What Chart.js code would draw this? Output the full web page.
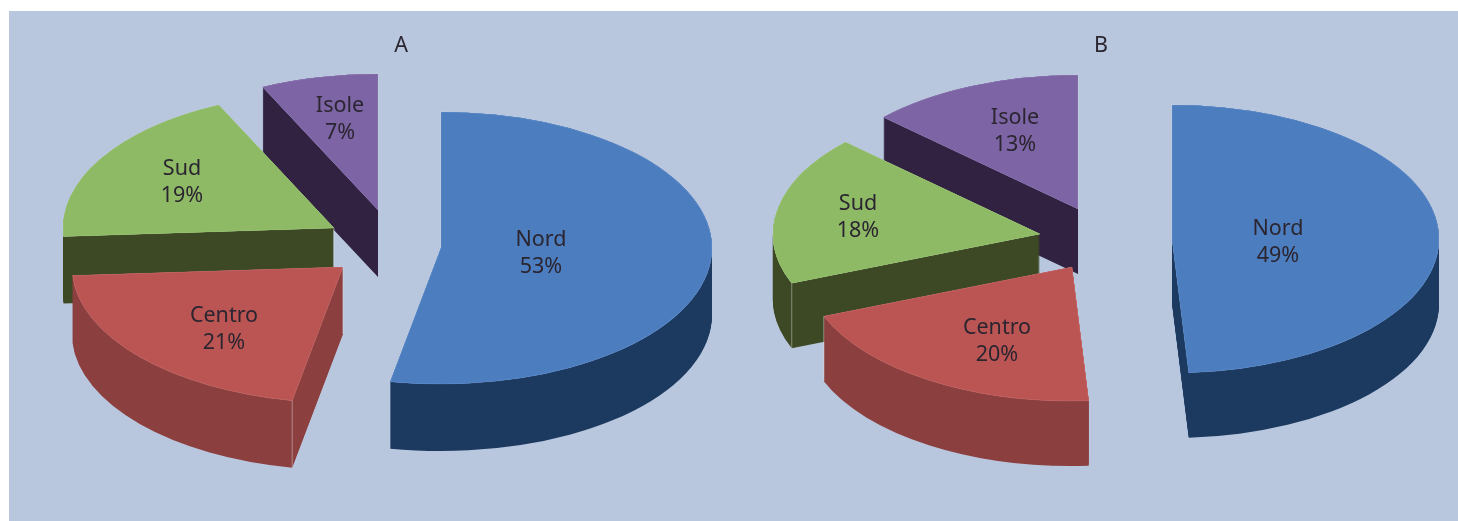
<!DOCTYPE html>
<html>
<head>
<meta charset="utf-8">
<title>Nord Centro Sud Isole</title>
<script src="https://cdn.jsdelivr.net/npm/chart.js@4/dist/chart.umd.min.js"></script>
<style>
  html, body { margin: 0; padding: 0; background: #fff; overflow: hidden; }
  #panel { position: absolute; left: 9px; top: 11px; width: 1449px; height: 510px; background: #b9c7de; }
  canvas { position: absolute; left: 0; top: 0; }
</style>
</head>
<body>
<div id="panel"></div>
<canvas id="pieA" width="1458" height="521"></canvas>
<canvas id="pieB" width="1458" height="521"></canvas>
<script>
const categories = ["Nord", "Centro", "Sud", "Isole"];
const valuesA = [53, 21, 19, 7];
const valuesB = [49, 20, 18, 13];

const topColors = ["#4c7dbf", "#ba5554", "#8eba66", "#7c64a5"];
const sideColors = ["#1c3a60", "#8c3f3f", "#3d4925", "#302240"];

const fontFamily = '"Noto Sans", sans-serif';
const textColor = "#2b2530";
const edgeColor = "rgba(225,225,225,0.45)";

// squashed pie with a wall: each arc element gets redrawn going down, back slices first
const pie3d = {
    id: "pie3d",
    beforeDatasetDraw(chart) {
        const cfg = chart.options.plugins.pie3d;
        const ctx = chart.ctx;
        const arcs = chart.getDatasetMeta(0).data;
        const cx = arcs[0].x;
        const cy = arcs[0].y;

        const drawAt = (target, el, i, d) => {
            target.save();
            target.translate(cfg.explode[i][0], cfg.explode[i][1] + d);
            target.translate(cx, cy);
            target.scale(1, cfg.squash);
            target.translate(-cx, -cy);
            el.draw(target);
            target.restore();
        };

        // the wall goes through a scratch canvas, stacking directly leaves ribs from the soft edges
        const scratch = document.createElement("canvas");
        scratch.width = chart.width;
        scratch.height = chart.height;
        const sctx = scratch.getContext("2d");

        [3, 2, 1, 0].forEach((i) => {
            const arc = arcs[i];
            const el = Object.create(arc);

            el.options = { ...arc.options, offset: 0, borderWidth: 0, backgroundColor: sideColors[i] };
            sctx.globalCompositeOperation = "source-over";
            sctx.clearRect(0, 0, scratch.width, scratch.height);
            for (let d = cfg.depth; d >= 1; d--) {
                drawAt(sctx, el, i, d);
            }
            sctx.globalCompositeOperation = "source-in";
            sctx.fillStyle = sideColors[i];
            sctx.fillRect(0, 0, scratch.width, scratch.height);
            ctx.drawImage(scratch, 0, 0);

            // top face, a few times so the wall does not bleed through the soft edge
            el.options = { ...arc.options, offset: 0, borderWidth: 0 };
            drawAt(ctx, el, i, 0);
            drawAt(ctx, el, i, 0);
            drawAt(ctx, el, i, 0);
            el.options = { ...arc.options, offset: 0, borderWidth: 0.7, borderColor: "rgba(255,255,255,0.18)" };
            drawAt(ctx, el, i, 0);

            // pale line on the front corners of the wall
            cfg.corners.filter((c) => c[0] === i).forEach((c) => {
                const ang = c[1] === "start" ? arc.startAngle : arc.endAngle;
                const r = c[1] === "apex" ? 0 : arc.outerRadius;
                const x = cx + cfg.explode[i][0] + Math.cos(ang) * r;
                const y = cy + cfg.explode[i][1] + Math.sin(ang) * r * cfg.squash;
                ctx.save();
                ctx.strokeStyle = edgeColor;
                ctx.lineWidth = 1;
                ctx.beginPath();
                ctx.moveTo(x, y);
                ctx.lineTo(x, y + cfg.depth);
                ctx.stroke();
                ctx.restore();
            });
        });
        return false;
    },
    afterDraw(chart) {
        const cfg = chart.options.plugins.pie3d;
        const ctx = chart.ctx;
        const arcs = chart.getDatasetMeta(0).data;
        const values = chart.data.datasets[0].data;

        ctx.save();
        ctx.fillStyle = textColor;
        ctx.textAlign = "center";
        ctx.textBaseline = "middle";
        ctx.font = "21.5px " + fontFamily;
        arcs.forEach((arc, i) => {
            const x = arc.x + cfg.explode[i][0] + cfg.labelAt[i][0];
            const y = arc.y + cfg.explode[i][1] + cfg.labelAt[i][1];
            ctx.fillText(chart.data.labels[i], x, y - 12);
            ctx.fillText(values[i] + "%", x, y + 15);
        });
        ctx.font = "21.5px " + fontFamily;
        ctx.fillText(cfg.title, cfg.titleX, 46);
        ctx.restore();
    }
};

function makePie(id, values, extra) {
    return new Chart(document.getElementById(id), {
        type: "pie",
        data: {
            labels: categories,
            datasets: [{
                data: values,
                backgroundColor: topColors,
                borderWidth: 0,
                radius: extra.radius
            }]
        },
        options: {
            responsive: false,
            animation: false,
            events: [],
            layout: { padding: extra.padding },
            plugins: {
                legend: { display: false },
                tooltip: { enabled: false },
                pie3d: extra
            }
        },
        plugins: [pie3d]
    });
}

makePie("pieA", valuesA, {
    title: "A",
    titleX: 401,
    radius: 271,
    squash: 0.502,
    depth: 67,
    padding: { right: 676, bottom: 30 },
    explode: [[50, 2.5], [-48, 21.5], [-57, -17.5], [-13, -35.5]],
    labelAt: [[100, 4], [-119, 61], [-152, -47], [-38, -92]],
    corners: [[1, "start"], [1, "apex"], [2, "apex"]]
});

makePie("pieB", valuesB, {
    title: "B",
    titleX: 1101,
    radius: 267,
    squash: 0.502,
    depth: 65,
    padding: { left: 752, bottom: 41 },
    explode: [[67, -1], [-33, 27], [-65, -6], [-27, -31]],
    labelAt: [[106, 1.5], [-75, 72.5], [-182, -18], [-63, -79]],
    corners: [[2, "start"], [1, "end"]]
});
</script>
</body>
</html>
